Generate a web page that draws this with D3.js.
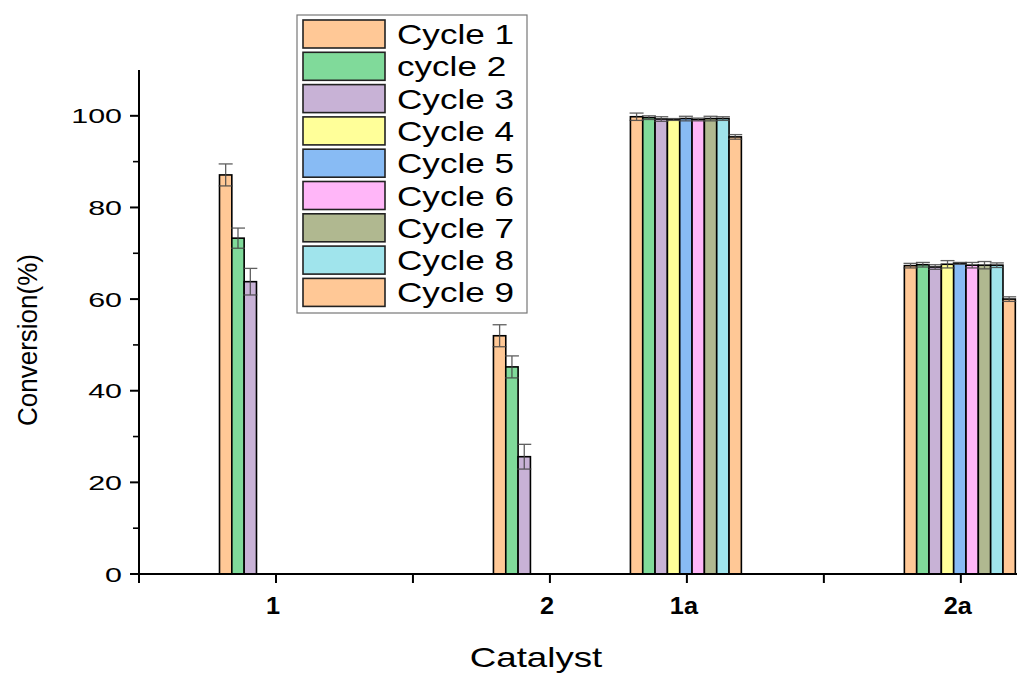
<!DOCTYPE html>
<html>
<head>
<meta charset="utf-8">
<script src="https://d3js.org/d3.v7.min.js"></script>
<style>
body { margin: 0; background: #fff; }
text { font-family: "Liberation Sans", Arial, sans-serif; }
</style>
</head>
<body>
<svg id="chart" width="1017" height="673"></svg>
<script>
// data
var categories = ["1", "2", "1a", "2a"];
var catPos = [1, 3, 4, 6];            // position on the x axis (tick index)
var seriesNames = ["Cycle 1", "cycle 2", "Cycle 3", "Cycle 4", "Cycle 5", "Cycle 6", "Cycle 7", "Cycle 8", "Cycle 9"];
var seriesColors = ["#ffc896", "#80da9a", "#c8b2d6", "#ffff99", "#88bbf4", "#ffb6f8", "#b0b890", "#a0e4ec", "#ffc896"];
// values[series][category], null = no bar
var values = [
  [87.1, 52.0, 99.8, 67.3],
  [73.3, 45.2, 99.6, 67.5],
  [63.8, 25.6, 99.3, 67.0],
  [null, null, 99.2, 67.6],
  [null, null, 99.4, 67.8],
  [null, null, 99.2, 67.4],
  [null, null, 99.4, 67.4],
  [null, null, 99.4, 67.4],
  [null, null, 95.4, 60.0]
];
var errors = [
  [2.4, 2.4, 0.8, 0.5],
  [2.2, 2.4, 0.4, 0.5],
  [2.9, 2.7, 0.5, 0.5],
  [0, 0, 0.2, 0.8],
  [0, 0, 0.5, 0.2],
  [0, 0, 0.3, 0.6],
  [0, 0, 0.5, 0.8],
  [0, 0, 0.4, 0.5],
  [0, 0, 0.5, 0.5]
];
var yTicks = [0, 20, 40, 60, 80, 100];
var yMinor = [10, 30, 50, 70, 90];
var xTicks = [0, 1, 2, 3, 4, 5, 6];

var svg = d3.select("#chart");
var x = d3.scaleLinear().domain([0, 6.41]).range([139, 1017]);
var y = d3.scaleLinear().domain([0, 110]).range([574, 70]);
var groupWidth = x(0.81) - x(0);
var band = d3.scaleBand().domain(d3.range(seriesNames.length)).range([-groupWidth / 2 - 1, groupWidth / 2 - 1]);

// text stretched sideways like the original export
function wideText(sel, px, py, sx) {
  return sel.append("text").attr("transform", "translate(" + px + "," + py + ") scale(" + sx + ",1)");
}

// bars
var bars = [];
values.forEach(function(row, s) {
  row.forEach(function(v, c) {
    if (v !== null) bars.push({s: s, c: c, v: v, e: errors[s][c]});
  });
});
var g = svg.append("g");
g.selectAll("rect.bar").data(bars).enter().append("rect")
  .attr("class", "bar")
  .attr("x", function(d) { return x(catPos[d.c]) + band(d.s); })
  .attr("y", function(d) { return y(d.v); })
  .attr("width", band.bandwidth())
  .attr("height", function(d) { return y(0) - y(d.v); })
  .attr("fill", function(d) { return seriesColors[d.s]; })
  .attr("stroke", "#000")
  .attr("stroke-width", 1.6);

// error bars
var eb = g.selectAll("g.err").data(bars).enter().append("g")
  .attr("class", "err")
  .attr("stroke", "#444")
  .attr("stroke-width", 1.3)
  .attr("opacity", 0.85);
function cx(d) { return x(catPos[d.c]) + band(d.s) + band.bandwidth() / 2; }
eb.append("line")
  .attr("x1", cx).attr("x2", cx)
  .attr("y1", function(d) { return y(d.v + d.e); })
  .attr("y2", function(d) { return y(d.v - d.e); });
eb.selectAll("line.cap").data(function(d) { return [[d, d.v + d.e], [d, d.v - d.e]]; })
  .enter().append("line")
  .attr("class", "cap")
  .attr("x1", function(p) { return cx(p[0]) - 7; })
  .attr("x2", function(p) { return cx(p[0]) + 7; })
  .attr("y1", function(p) { return y(p[1]); })
  .attr("y2", function(p) { return y(p[1]); });

// y axis
var yAxis = svg.append("g").attr("transform", "translate(139,0)");
yAxis.append("line").attr("x1", 0).attr("x2", 0).attr("y1", y(110)).attr("y2", y(0))
  .attr("stroke", "#000").attr("stroke-width", 2);
yAxis.selectAll("line.maj").data(yTicks).enter().append("line")
  .attr("x1", -9).attr("x2", 0)
  .attr("y1", function(d) { return y(d); }).attr("y2", function(d) { return y(d); })
  .attr("stroke", "#000").attr("stroke-width", 2);
yAxis.selectAll("line.min").data(yMinor).enter().append("line")
  .attr("x1", -6).attr("x2", 0)
  .attr("y1", function(d) { return y(d); }).attr("y2", function(d) { return y(d); })
  .attr("stroke", "#000").attr("stroke-width", 1.6);
yTicks.forEach(function(t) {
  wideText(yAxis, -17, y(t), 1.45)
    .attr("dy", "0.36em")
    .attr("text-anchor", "end")
    .attr("font-size", 21)
    .text(t);
});

// x axis
var xAxis = svg.append("g").attr("transform", "translate(0," + y(0) + ")");
xAxis.append("line").attr("x1", x(0) - 1).attr("x2", 1017).attr("y1", 0).attr("y2", 0)
  .attr("stroke", "#000").attr("stroke-width", 2);
xAxis.selectAll("line.t").data(xTicks).enter().append("line")
  .attr("x1", function(d) { return x(d); }).attr("x2", function(d) { return x(d); })
  .attr("y1", 0).attr("y2", 9)
  .attr("stroke", "#000").attr("stroke-width", 2);
categories.forEach(function(c, i) {
  wideText(xAxis, x(catPos[i]) - 3, 40, 1.1)
    .attr("text-anchor", "middle")
    .attr("font-size", 23)
    .attr("font-weight", "bold")
    .text(c);
});

// axis titles
wideText(svg, 536, 667, 1.36)
  .attr("text-anchor", "middle")
  .attr("font-size", 27)
  .text("Catalyst");
svg.append("text")
  .attr("transform", "translate(37,340) rotate(-90)")
  .attr("text-anchor", "middle")
  .attr("font-size", 27)
  .attr("textLength", 172)
  .attr("lengthAdjust", "spacingAndGlyphs")
  .text("Conversion(%)");

// legend
var legend = svg.append("g");
legend.append("rect")
  .attr("x", 297).attr("y", 15).attr("width", 230).attr("height", 298)
  .attr("fill", "#fff").attr("stroke", "#777").attr("stroke-width", 1.2);
var item = legend.selectAll("g.item").data(seriesNames).enter().append("g")
  .attr("class", "item")
  .attr("transform", function(d, i) { return "translate(0," + (20 + i * 32.3) + ")"; });
item.append("rect")
  .attr("x", 303).attr("y", 0).attr("width", 82).attr("height", 28)
  .attr("fill", function(d, i) { return seriesColors[i]; })
  .attr("stroke", "#222").attr("stroke-width", 1.6);
item.each(function(d) {
  wideText(d3.select(this), 397, 24, 1.3)
    .attr("font-size", 27)
    .text(d);
});
</script>
</body>
</html>
